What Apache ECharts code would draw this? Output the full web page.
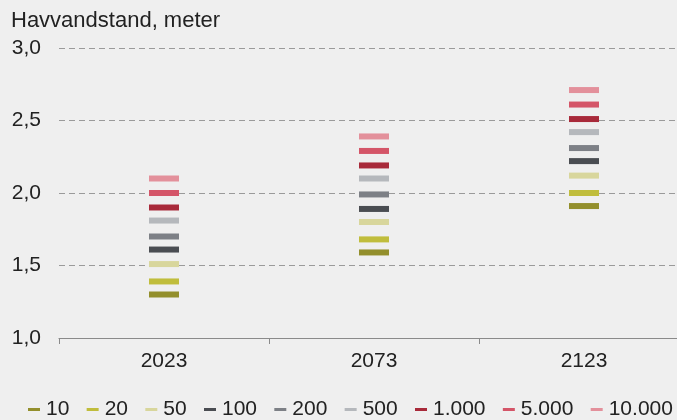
<!DOCTYPE html>
<html>
<head>
<meta charset="utf-8">
<script src="https://cdn.jsdelivr.net/npm/echarts@6/dist/echarts.min.js"></script>
<style>
html,body{margin:0;padding:0;background:#efefef;overflow:hidden;width:677px;height:420px;}
#c{width:689px;height:420px;}
</style>
</head>
<body>
<div id="c"></div>
<script>
const categories = ['2023', '2073', '2123'];
const seriesNames = ['10', '20', '50', '100', '200', '500', '1.000', '5.000', '10.000'];
const v10 = [1.30, 1.59, 1.91];
const v20 = [1.39, 1.68, 2.00];
const v50 = [1.51, 1.80, 2.12];
const v100 = [1.61, 1.89, 2.22];
const v200 = [1.70, 1.99, 2.31];
const v500 = [1.81, 2.10, 2.42];
const v1000 = [1.90, 2.19, 2.51];
const v5000 = [2.00, 2.29, 2.61];
const v10000 = [2.10, 2.39, 2.71];
const seriesValues = [v10, v20, v50, v100, v200, v500, v1000, v5000, v10000];
const colors = ['#938f2c', '#c0bd3c', '#d8d69c', '#4a4d52', '#7d8086', '#b5b8bc', '#a82a3a', '#d45568', '#e3909b'];
const yTicks = { min: 1.0, max: 3.0, interval: 0.5 };

const chart = echarts.init(document.getElementById('c'));
const font = 'Liberation Sans, Arial, sans-serif';
chart.setOption({
  backgroundColor: '#efefef',
  animation: false,
  title: {
    text: 'Havvandstand, meter',
    left: 6, top: 5,
    textStyle: { fontFamily: font, fontSize: 22, fontWeight: 'normal', color: '#222' }
  },
  legend: {
    left: 23, top: 394,
    itemGap: 17.3,
    itemWidth: 12, itemHeight: 3,
    icon: 'rect',
    textStyle: { fontFamily: font, fontSize: 21, color: '#222', padding: [0, 0, 0, 1] },
    data: seriesNames
  },
  grid: { left: 59, top: 48, right: 0, bottom: 82, containLabel: false },
  xAxis: {
    type: 'category',
    data: categories,
    axisLine: { lineStyle: { color: '#8a8a8a', width: 1.2 } },
    axisTick: { show: true, length: 6, lineStyle: { color: '#8a8a8a' } },
    axisLabel: { fontFamily: font, fontSize: 21, color: '#222', margin: 13 },
    splitLine: { show: false }
  },
  yAxis: {
    type: 'value',
    min: yTicks.min, max: yTicks.max, interval: yTicks.interval,
    axisLine: { show: false },
    axisTick: { show: false },
    axisLabel: {
      fontFamily: font, fontSize: 21, color: '#222', margin: 18,
      formatter: v => v.toFixed(1).replace('.', ',')
    },
    splitLine: { lineStyle: { color: '#9a9a9a', type: [6, 4], width: 1 } }
  },
  series: seriesNames.map((n, i) => ({
    name: n,
    type: 'scatter',
    symbol: 'rect',
    symbolSize: [30, 6],
    itemStyle: { color: colors[i], opacity: 1 },
    data: seriesValues[i]
  }))
});
</script>
</body>
</html>
